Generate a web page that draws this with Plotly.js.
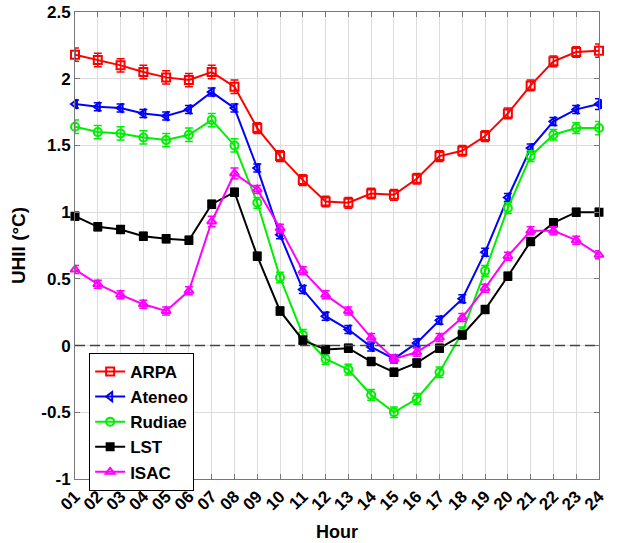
<!DOCTYPE html>
<html>
<head>
<meta charset="utf-8">
<script src="https://cdn.plot.ly/plotly-3.0.1.min.js"></script>
<style>html,body{margin:0;padding:0;background:#fff;}#chart{width:619px;height:543px;}</style>
</head>
<body>
<div id="chart"></div>
<script>
const hours = [1,2,3,4,5,6,7,8,9,10,11,12,13,14,15,16,17,18,19,20,21,22,23,24];
const hourLabels = ['01','02','03','04','05','06','07','08','09','10','11','12','13','14','15','16','17','18','19','20','21','22','23','24'];

const arpa   = [2.18,2.14,2.10,2.05,2.01,1.99,2.05,1.94,1.63,1.42,1.24,1.08,1.07,1.14,1.13,1.25,1.42,1.46,1.57,1.74,1.95,2.13,2.20,2.21];
const ateneo = [1.81,1.79,1.78,1.74,1.72,1.77,1.90,1.78,1.33,0.83,0.42,0.22,0.12,-0.01,-0.10,0.02,0.19,0.35,0.70,1.11,1.48,1.68,1.77,1.81];
const rudiae = [1.64,1.60,1.59,1.56,1.54,1.58,1.69,1.50,1.07,0.51,0.08,-0.10,-0.18,-0.37,-0.50,-0.40,-0.20,0.10,0.56,1.03,1.42,1.58,1.63,1.63];
const lst    = [0.97,0.89,0.87,0.82,0.80,0.79,1.06,1.15,0.67,0.26,0.04,-0.03,-0.02,-0.12,-0.20,-0.13,-0.02,0.08,0.27,0.52,0.78,0.92,1.00,1.00];
const isac   = [0.57,0.46,0.38,0.31,0.26,0.41,0.93,1.29,1.17,0.88,0.56,0.38,0.26,0.06,-0.10,-0.05,0.06,0.21,0.43,0.67,0.86,0.86,0.79,0.68];

const arpaErr   = [0.05,0.05,0.05,0.05,0.05,0.05,0.05,0.05,0.04,0.04,0.04,0.04,0.04,0.04,0.04,0.04,0.04,0.04,0.04,0.04,0.04,0.04,0.04,0.05];
const ateneoErr = [0.03,0.03,0.03,0.03,0.03,0.03,0.03,0.03,0.03,0.03,0.03,0.03,0.03,0.03,0.03,0.03,0.03,0.03,0.03,0.03,0.03,0.03,0.03,0.04];
const rudiaeErr = [0.05,0.05,0.05,0.05,0.05,0.05,0.05,0.05,0.04,0.04,0.04,0.04,0.04,0.04,0.04,0.04,0.04,0.04,0.04,0.04,0.04,0.04,0.04,0.05];
const lstErr    = [0.03,0.03,0.03,0.03,0.03,0.03,0.03,0.03,0.03,0.03,0.03,0.03,0.03,0.03,0.03,0.03,0.03,0.03,0.03,0.03,0.03,0.03,0.03,0.03];
const isacErr   = [0.03,0.03,0.03,0.03,0.03,0.03,0.04,0.04,0.03,0.03,0.03,0.03,0.03,0.03,0.03,0.03,0.03,0.03,0.03,0.03,0.03,0.03,0.03,0.03];

const seriesNames = ['ARPA','Ateneo','Rudiae','LST','ISAC'];
const seriesColors = ['#ff0000','#0000ff','#00ee00','#000000','#ff00ff'];
const seriesSymbols = ['square-open','triangle-left-open','circle-open','square','triangle-up-open'];
const seriesVals = [arpa, ateneo, rudiae, lst, isac];
const seriesErrs = [arpaErr, ateneoErr, rudiaeErr, lstErr, isacErr];

const traces = seriesNames.map((n,i)=>({
  x: hours, y: seriesVals[i], name: n, type:'scatter', mode:'lines+markers',
  line:{color:seriesColors[i], width:2},
  marker:{symbol:seriesSymbols[i], color:seriesColors[i], size: i===3?7:8, line:{color:seriesColors[i], width:2}},
  error_y:{type:'data', array:seriesErrs[i], visible:true, color:seriesColors[i], thickness:1.5, width:4},
  cliponaxis:false
}));

const font = {family:'"Liberation Sans", Arial, sans-serif', size:17, color:'#000'};
const layout = {
  width:619, height:543,
  margin:{l:75, r:20, t:12, b:64},
  paper_bgcolor:'#fff', plot_bgcolor:'#fff',
  font: font,
  showlegend:true,
  legend:{x:0.027, y:0.27, xanchor:'left', yanchor:'top', bgcolor:'#fff', bordercolor:'#000', borderwidth:1,
    font:{family:font.family, size:17, color:'#000', weight:'bold'}, tracegroupgap:0, itemwidth:30},
  xaxis:{range:[1,24], tickvals:hours, ticktext:hourLabels, tickangle:-45,
    showgrid:true, gridcolor:'#dcdcdc', gridwidth:1, zeroline:false,
    showline:true, linecolor:'#777', linewidth:1, mirror:'ticks', ticks:'inside', ticklen:5, tickcolor:'#777',
    tickfont:{family:font.family, size:17, color:'#000', weight:'bold'},
    title:{text:'Hour', font:{family:font.family, size:18, color:'#000', weight:'bold'}, standoff:12}},
  yaxis:{range:[-1,2.5], tickvals:[-1,-0.5,0,0.5,1,1.5,2,2.5], ticktext:['-1','-0.5','0','0.5','1','1.5','2','2.5'],
    showgrid:true, gridcolor:'#dcdcdc', gridwidth:1, zeroline:false,
    showline:true, linecolor:'#777', linewidth:1, mirror:'ticks', ticks:'inside', ticklen:5, tickcolor:'#777',
    tickfont:{family:font.family, size:17, color:'#000', weight:'bold'},
    title:{text:'UHII (°C)', font:{family:font.family, size:19, color:'#000', weight:'bold'}, standoff:10}},
  shapes:[{type:'line', xref:'paper', x0:0, x1:1, yref:'y', y0:0, y1:0, line:{color:'#444', width:1.5, dash:'10px,5px'}, layer:'above'}]
};
Plotly.newPlot('chart', traces, layout, {displayModeBar:false, staticPlot:true});
</script>
</body>
</html>
